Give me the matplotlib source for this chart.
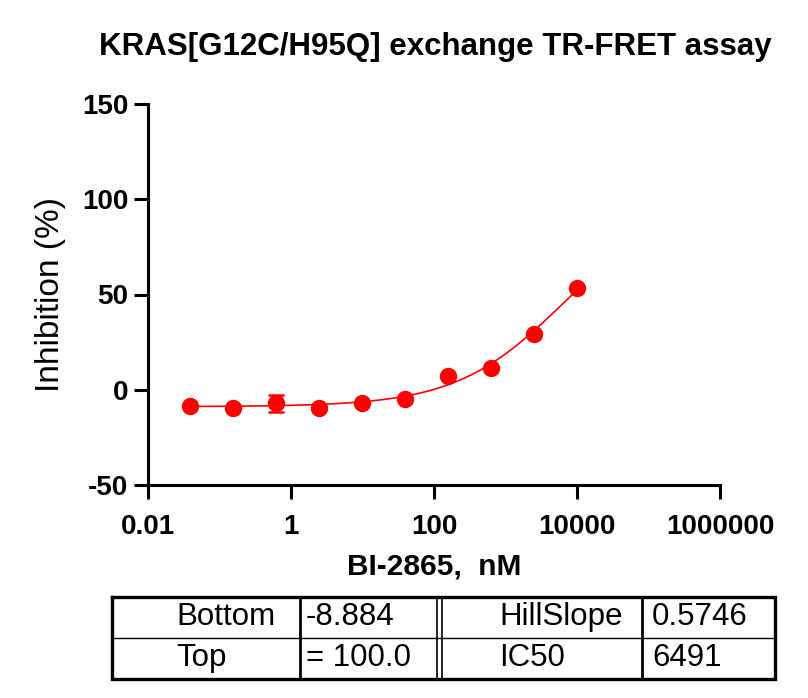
import numpy as np
import matplotlib
matplotlib.use("Agg")
import matplotlib.pyplot as plt

# --- data ---
conc_nM = [0.0381, 0.153, 0.610, 2.44, 9.77, 39.1, 156.3, 625.0, 2500.0, 10000.0]
inhibition = [-8.5, -9.5, -7.1, -9.5, -7.1, -4.7, 7.4, 11.3, 29.4, 53.4]
inhibition_err = [0, 0, 4.6, 0, 0, 0, 0, 0, 0, 0]

# fitted 4PL parameters (shown in the table)
fit_bottom = -8.884
fit_top = 100.0
fit_hill = 0.5746
fit_ic50 = 6491

param_names_left = ["Bottom", "Top"]
param_values_left = ["-8.884", "= 100.0"]
param_names_right = ["HillSlope", "IC50"]
param_values_right = ["0.5746", "6491"]

x_ticks = [0.01, 1, 100, 10000, 1000000]
x_tick_labels = ["0.01", "1", "100", "10000", "1000000"]
y_ticks = [-50, 0, 50, 100, 150]

RED = "#ff0000"
plt.rcParams['font.family'] = ['Liberation Sans', 'DejaVu Sans']
plt.rcParams['axes.unicode_minus'] = False

W, H = 808, 698
fig = plt.figure(figsize=(W / 100, H / 100), dpi=100)
ax = fig.add_axes([148 / W, 1 - 485 / H, (720 - 148) / W, (485 - 104) / H])

# --- fitted curve ---
xc = np.logspace(np.log10(conc_nM[0]), np.log10(conc_nM[-1]), 300)
yc = fit_bottom + (fit_top - fit_bottom) / (1 + (fit_ic50 / xc) ** fit_hill)
ax.plot(xc, yc, color=RED, lw=1.2, zorder=2)

# --- points ---
ax.errorbar(conc_nM, inhibition, yerr=inhibition_err, fmt='o', color=RED,
            ms=11.5, capsize=5.5, capthick=1.8, elinewidth=1.8, zorder=3)

ax.set_xscale('log')
ax.set_xlim(0.01, 1000000)
ax.set_ylim(-50, 150)
ax.set_xticks(x_ticks)
ax.set_xticklabels(x_tick_labels)
ax.minorticks_off()
ax.set_yticks(y_ticks)

for s in ['top', 'right']:
    ax.spines[s].set_visible(False)
for s in ['left', 'bottom']:
    ax.spines[s].set_linewidth(2.2)
ax.tick_params(axis='both', width=2.2, length=10, labelsize=20)
ax.tick_params(axis='x', pad=11)
ax.tick_params(axis='y', pad=4)
for lab in ax.get_xticklabels() + ax.get_yticklabels():
    lab.set_fontweight('bold')

ax.set_ylabel("Inhibition (%)", fontsize=24, labelpad=12)
ax.set_xlabel("BI-2865,  nM", fontsize=21.5, fontweight='bold', labelpad=9)
fig.text(435 / W, 1 - 47 / H, "KRAS[G12C/H95Q] exchange TR-FRET assay",
         ha='center', va='center', fontsize=22.5, fontweight='bold')

# --- parameter table (overlay in pixel coordinates) ---
tab = fig.add_axes([0, 0, 1, 1], facecolor='none')
tab.set_xlim(0, W)
tab.set_ylim(H, 0)
tab.axis('off')

top_y, mid_y, bot_y = 597, 638, 679
left_x, right_x = 112, 775
tab.plot([left_x, right_x, right_x, left_x, left_x],
         [top_y, top_y, bot_y, bot_y, top_y], color='black', lw=2.4,
         solid_joinstyle='miter')
tab.plot([left_x, right_x], [mid_y, mid_y], color='black', lw=1.0)
for xv, lw in [(300, 2.0), (437, 1.2), (442, 1.2), (642, 2.0)]:
    tab.plot([xv, xv], [top_y, bot_y], color='black', lw=lw)

row_y = [617, 658]
fs = 22.5
for i in range(2):
    tab.text(176, row_y[i], param_names_left[i], ha='left', va='center', fontsize=fs)
    tab.text(306, row_y[i], param_values_left[i], ha='left', va='center', fontsize=fs)
    tab.text(499, row_y[i], param_names_right[i], ha='left', va='center', fontsize=fs)
    tab.text(652, row_y[i], param_values_right[i], ha='left', va='center', fontsize=fs)

fig.savefig("out.png", dpi=100)
